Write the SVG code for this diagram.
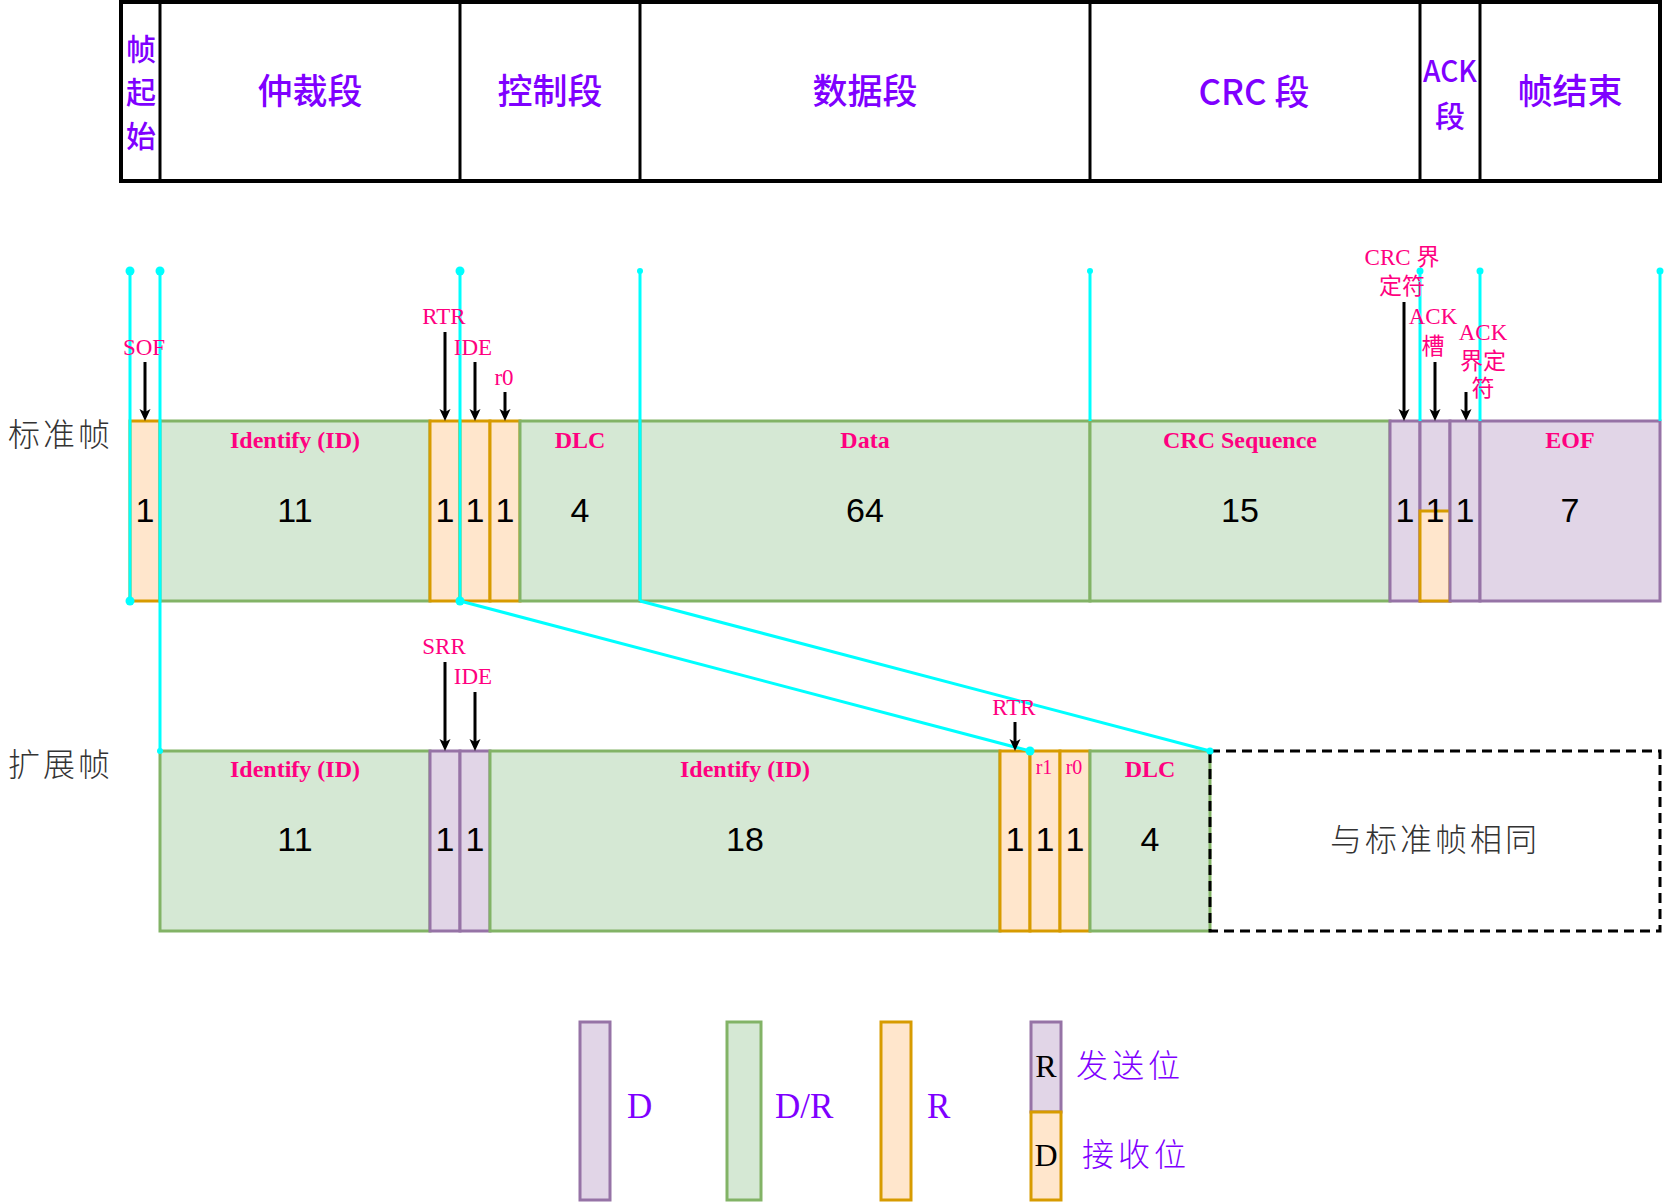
<svg xmlns="http://www.w3.org/2000/svg" width="1668" height="1203" viewBox="0 0 1668 1203">
<defs>
<marker id="ah" viewBox="0 0 12 12" refX="6" refY="6" markerWidth="12" markerHeight="12" markerUnits="userSpaceOnUse" orient="auto">
<path d="M0,0.5 L12,6 L0,11.5 L3,6 z" fill="#000"/>
</marker>
<style>
.pur{fill:#e1d5e7;stroke:#9673a6;stroke-width:3}
.grn{fill:#d5e8d4;stroke:#82b366;stroke-width:3}
.org{fill:#ffe6cc;stroke:#d79b00;stroke-width:3}
.hd{fill:#7f00ff;font-family:"Noto Sans CJK SC","Noto Sans",sans-serif;font-weight:500;font-size:35px;text-anchor:middle;dominant-baseline:central}
.hs{font-size:30px}
.lb{fill:#ff0080;font-family:"Liberation Serif","Noto Sans CJK SC",serif;font-size:23px;text-anchor:middle;dominant-baseline:central}
.sm{font-size:20px}
.bl{fill:#ff0080;font-family:"Liberation Serif",serif;font-size:24px;font-weight:bold;text-anchor:middle;dominant-baseline:central}
.nm{fill:#000;font-family:"Liberation Sans",Arial,sans-serif;font-size:34px;text-anchor:middle;dominant-baseline:central}
.th{fill:#333;font-family:"Noto Sans CJK SC",sans-serif;font-weight:300;font-size:32px;dominant-baseline:central;letter-spacing:3px}
.lg{fill:#7f00ff;font-family:"Liberation Serif",serif;font-size:35px;dominant-baseline:central}
.lgk{fill:#000;font-family:"Liberation Serif",serif;font-size:32px;text-anchor:middle;dominant-baseline:central}
.lgc{fill:#7f00ff;font-family:"Noto Sans CJK SC",sans-serif;font-weight:300;font-size:32px;dominant-baseline:central;letter-spacing:4px}
.cy{stroke:#00ffff;stroke-width:3;fill:none}
.dot{fill:#00ffff}
.ar{stroke:#000;stroke-width:3;marker-end:url(#ah)}
</style>
</defs>

<!-- Header table -->
<g id="header">
<rect x="121" y="2" width="1539" height="179" fill="#fff" stroke="#000" stroke-width="4"/>
<g stroke="#000" stroke-width="3">
<line x1="160" y1="2" x2="160" y2="181"/>
<line x1="460" y1="2" x2="460" y2="181"/>
<line x1="640" y1="2" x2="640" y2="181"/>
<line x1="1090" y1="2" x2="1090" y2="181"/>
<line x1="1420" y1="2" x2="1420" y2="181"/>
<line x1="1480" y1="2" x2="1480" y2="181"/>
</g>
<g id="h-sof"><text class="hd hs"><tspan x="141" y="47">帧</tspan><tspan x="141" y="90">起</tspan><tspan x="141" y="134">始</tspan></text></g>
<g id="h-arb"><text class="hd" x="310" y="88">仲裁段</text></g>
<g id="h-ctl"><text class="hd" x="550" y="88">控制段</text></g>
<g id="h-data"><text class="hd" x="865" y="88">数据段</text></g>
<g id="h-crc"><text class="hd" x="1254" y="89">CRC 段</text></g>
<g id="h-ack"><text class="hd hs"><tspan x="1450" y="69" textLength="54" lengthAdjust="spacingAndGlyphs">ACK</tspan><tspan x="1450" y="114">段</tspan></text></g>
<g id="h-eof"><text class="hd" x="1570" y="88">帧结束</text></g>
</g>

<!-- Row labels -->
<g id="label-std"><text class="th" x="8" y="432">标准帧</text></g>
<g id="label-ext"><text class="th" x="8" y="762">扩展帧</text></g>

<!-- Standard frame -->
<g id="std-frame">
<g id="s-sof"><rect class="org" x="130" y="421" width="30" height="180"/><text class="nm" x="145" y="510">1</text></g>
<g id="s-id"><rect class="grn" x="160" y="421" width="270" height="180"/><text class="bl" x="295" y="440">Identify (ID)</text><text class="nm" x="295" y="510">11</text></g>
<g id="s-rtr"><rect class="org" x="430" y="421" width="30" height="180"/><text class="nm" x="445" y="510">1</text></g>
<g id="s-ide"><rect class="org" x="460" y="421" width="30" height="180"/><text class="nm" x="475" y="510">1</text></g>
<g id="s-r0"><rect class="org" x="490" y="421" width="30" height="180"/><text class="nm" x="505" y="510">1</text></g>
<g id="s-dlc"><rect class="grn" x="520" y="421" width="120" height="180"/><text class="bl" x="580" y="440">DLC</text><text class="nm" x="580" y="510">4</text></g>
<g id="s-data"><rect class="grn" x="640" y="421" width="450" height="180"/><text class="bl" x="865" y="440">Data</text><text class="nm" x="865" y="510">64</text></g>
<g id="s-crc"><rect class="grn" x="1090" y="421" width="300" height="180"/><text class="bl" x="1240" y="440">CRC Sequence</text><text class="nm" x="1240" y="510">15</text></g>
<g id="s-crcdel"><rect class="pur" x="1390" y="421" width="30" height="180"/><text class="nm" x="1405" y="510">1</text></g>
<g id="s-ack"><rect class="pur" x="1420" y="421" width="30" height="180"/><rect class="org" x="1420" y="511" width="30" height="90"/><text class="nm" x="1435" y="510">1</text></g>
<g id="s-ackdel"><rect class="pur" x="1450" y="421" width="30" height="180"/><text class="nm" x="1465" y="510">1</text></g>
<g id="s-eof"><rect class="pur" x="1480" y="421" width="180" height="180"/><text class="bl" x="1570" y="440">EOF</text><text class="nm" x="1570" y="510">7</text></g>
</g>

<!-- Extended frame -->
<g id="ext-frame">
<g id="e-id"><rect class="grn" x="160" y="751" width="270" height="180"/><text class="bl" x="295" y="769">Identify (ID)</text><text class="nm" x="295" y="839">11</text></g>
<g id="e-srr"><rect class="pur" x="430" y="751" width="30" height="180"/><text class="nm" x="445" y="839">1</text></g>
<g id="e-ide"><rect class="pur" x="460" y="751" width="30" height="180"/><text class="nm" x="475" y="839">1</text></g>
<g id="e-id2"><rect class="grn" x="490" y="751" width="510" height="180"/><text class="bl" x="745" y="769">Identify (ID)</text><text class="nm" x="745" y="839">18</text></g>
<g id="e-rtr"><rect class="org" x="1000" y="751" width="30" height="180"/><text class="nm" x="1015" y="839">1</text></g>
<g id="e-r1"><rect class="org" x="1030" y="751" width="30" height="180"/><text class="lb sm" x="1044" y="767">r1</text><text class="nm" x="1045" y="839">1</text></g>
<g id="e-r0"><rect class="org" x="1060" y="751" width="30" height="180"/><text class="lb sm" x="1074" y="767">r0</text><text class="nm" x="1075" y="839">1</text></g>
<g id="e-dlc"><rect class="grn" x="1090" y="751" width="120" height="180"/><text class="bl" x="1150" y="769">DLC</text><text class="nm" x="1150" y="839">4</text></g>
<g id="e-same"><rect x="1210" y="751" width="450" height="180" fill="none" stroke="#000" stroke-width="3" stroke-dasharray="10 6"/><text class="th" x="1435" y="837" text-anchor="middle">与标准帧相同</text></g>
</g>

<!-- Connectors -->
<g id="connectors">
<line class="cy" x1="130" y1="271" x2="130" y2="601"/>
<line class="cy" x1="160" y1="271" x2="160" y2="751"/>
<line class="cy" x1="460" y1="271" x2="460" y2="601"/>
<line class="cy" x1="460" y1="601" x2="1030" y2="751"/>
<line class="cy" x1="640" y1="271" x2="640" y2="601"/>
<line class="cy" x1="640" y1="601" x2="1210" y2="751"/>
<line class="cy" x1="1090" y1="271" x2="1090" y2="421"/>
<line class="cy" x1="1420" y1="271" x2="1420" y2="421"/>
<line class="cy" x1="1480" y1="271" x2="1480" y2="421"/>
<line class="cy" x1="1660" y1="271" x2="1660" y2="421"/>
<circle class="dot" cx="130" cy="271" r="4.5"/>
<circle class="dot" cx="130" cy="601" r="4.5"/>
<circle class="dot" cx="160" cy="271" r="4.5"/>
<circle class="dot" cx="160" cy="751" r="3"/>
<circle class="dot" cx="460" cy="271" r="4.5"/>
<circle class="dot" cx="460" cy="601" r="4.5"/>
<circle class="dot" cx="1030" cy="751" r="4.5"/>
<circle class="dot" cx="640" cy="271" r="3"/>
<circle class="dot" cx="1210" cy="751" r="3.5"/>
<circle class="dot" cx="1090" cy="271" r="3"/>
<circle class="dot" cx="1420" cy="271" r="3.5"/>
<circle class="dot" cx="1480" cy="271" r="3.5"/>
<circle class="dot" cx="1660" cy="271" r="3.5"/>

<line class="ar" x1="145" y1="362" x2="145" y2="415"/>
<line class="ar" x1="445" y1="332" x2="445" y2="415"/>
<line class="ar" x1="475" y1="362" x2="475" y2="415"/>
<line class="ar" x1="505" y1="392" x2="505" y2="415"/>
<line class="ar" x1="1404" y1="302" x2="1404" y2="415"/>
<line class="ar" x1="1435" y1="362" x2="1435" y2="415"/>
<line class="ar" x1="1466" y1="392" x2="1466" y2="415"/>
<line class="ar" x1="445" y1="662" x2="445" y2="745"/>
<line class="ar" x1="475" y1="692" x2="475" y2="745"/>
<line class="ar" x1="1015" y1="722" x2="1015" y2="745"/>
</g>

<!-- Field labels -->
<g id="labels">
<text class="lb" x="144" y="347">SOF</text>
<text class="lb" x="444" y="316">RTR</text>
<text class="lb" x="473" y="347">IDE</text>
<text class="lb" x="504" y="377">r0</text>
<text class="lb" x="1402" y="257">CRC 界</text>
<text class="lb" x="1402" y="286">定符</text>
<text class="lb" x="1433" y="316">ACK</text>
<text class="lb" x="1433" y="346">槽</text>
<text class="lb" x="1483" y="332">ACK</text>
<text class="lb" x="1483" y="361">界定</text>
<text class="lb" x="1483" y="388">符</text>
<text class="lb" x="444" y="646">SRR</text>
<text class="lb" x="473" y="676">IDE</text>
<text class="lb" x="1014" y="707">RTR</text>
</g>

<!-- Legend -->
<g id="legend">
<g id="lg-d"><rect class="pur" x="580" y="1022" width="30" height="178"/><text class="lg" x="627" y="1106">D</text></g>
<g id="lg-dr"><rect class="grn" x="727" y="1022" width="34" height="178"/><text class="lg" x="775" y="1106">D/R</text></g>
<g id="lg-r"><rect class="org" x="881" y="1022" width="30" height="178"/><text class="lg" x="927" y="1106">R</text></g>
<g id="lg-mix">
<rect class="pur" x="1031" y="1022" width="30" height="90"/>
<rect class="org" x="1031" y="1112" width="30" height="88"/>
<text class="lgk" x="1046" y="1066">R</text>
<text class="lgk" x="1046" y="1155">D</text>
<text class="lgc" x="1076" y="1063">发送位</text>
<text class="lgc" x="1082" y="1152">接收位</text>
</g>
</g>
</svg>
